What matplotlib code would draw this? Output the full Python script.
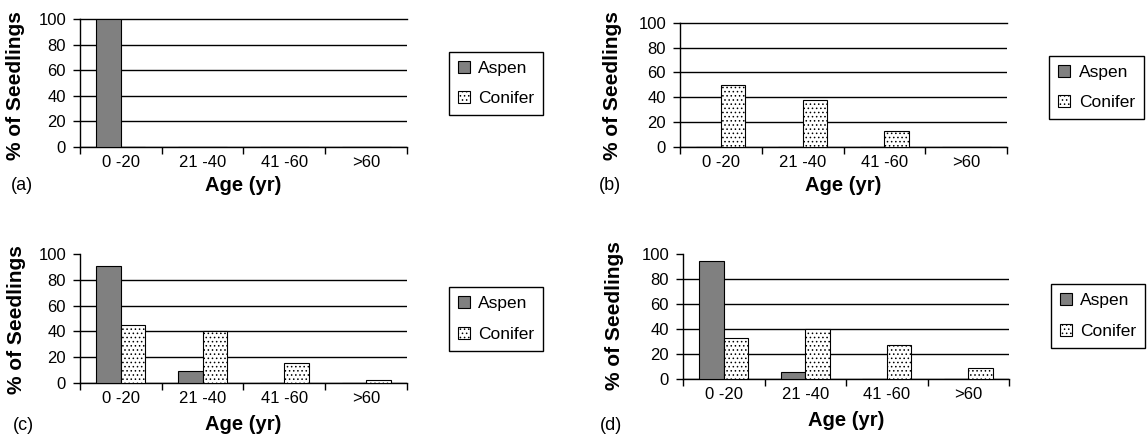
import numpy as np
import matplotlib
matplotlib.use("Agg")
import matplotlib.pyplot as plt

plt.rcParams["font.family"] = ["Liberation Sans", "DejaVu Sans"]
plt.rcParams["hatch.linewidth"] = 0.6

# Data (% of seedlings per age class)
age_groups = ["0 -20", "21 -40", "41 -60", ">60"]
aspen_a = [100, 0, 0, 0]
conifer_a = [0, 0, 0, 0]
aspen_b = [0, 0, 0, 0]
conifer_b = [50, 37.5, 12.5, 0]
aspen_c = [91, 9, 0, 0]
conifer_c = [45, 40, 15, 2]
aspen_d = [95, 5, 0, 0]
conifer_d = [33, 40, 27, 9]
panel_letters = ["(a)", "(b)", "(c)", "(d)"]

W, H = 1148, 438
fig = plt.figure(figsize=(W / 100, H / 100), dpi=100)


def fx(x):
    return x / W


def fy(y):
    return 1 - y / H


# layout in pixels: axes box (left, top, right, bottom), legend centre,
# ylabel centre, xlabel centre, letter centre, top gridline shown
layout = [
    ((80, 19, 407, 147), (496, 83.5), (16, 86), (243, 185), (22, 185), True),
    ((680, 22.7, 1007, 147), (1096.5, 87.5), (613, 86), (843, 185), (610, 185), True),
    ((80, 254.3, 407, 382.7), (496, 319), (16.5, 320), (243, 425), (23, 425), False),
    ((683, 254.3, 1009, 378.7), (1098, 316), (615, 316), (846, 420), (611, 426), False),
]
series = [(aspen_a, conifer_a), (aspen_b, conifer_b),
          (aspen_c, conifer_c), (aspen_d, conifer_d)]

x = np.arange(len(age_groups)) + 0.5

for (aspen, conifer), letter, (box, leg_c, yl_c, xl_c, let_c, top_grid) in zip(
        series, panel_letters, layout):
    l, t, r, b = box
    ax = fig.add_axes([fx(l), fy(b), (r - l) / W, (b - t) / H])

    ax.bar(x - 0.15, aspen, width=0.3, color="#808080", edgecolor="black",
           linewidth=0.8, label="Aspen", zorder=3)
    ax.bar(x + 0.15, conifer, width=0.3, color="white", edgecolor="black",
           hatch="....", linewidth=0.8, label="Conifer", zorder=3)

    ax.set_xlim(0, 4)
    ax.set_ylim(0, 100)
    ax.set_yticks(range(0, 101, 20))
    ax.set_xticks(range(5))
    ax.set_xticklabels([])
    ax.set_xticks(x, minor=True)
    ax.set_xticklabels(age_groups, minor=True)
    ax.tick_params(axis="x", which="minor", length=0, pad=6, labelsize=12)
    ax.tick_params(axis="x", which="major", length=5, width=1)
    ax.tick_params(axis="y", length=5, width=1, pad=5, labelsize=12)
    for s in ["top", "right"]:
        ax.spines[s].set_visible(False)
    for s in ["left", "bottom"]:
        ax.spines[s].set_linewidth(1)

    ax.yaxis.grid(True, color="black", linewidth=1)
    gl = ax.get_ygridlines()
    gl[-1].set_clip_on(False)
    if not top_grid:
        gl[-1].set_visible(False)

    leg = ax.legend(loc="center", bbox_to_anchor=(fx(leg_c[0]), fy(leg_c[1])),
                    bbox_transform=fig.transFigure, fancybox=False,
                    edgecolor="black", framealpha=1, fontsize=12.5,
                    handlelength=0.7, handleheight=0.7, handletextpad=0.5,
                    labelspacing=0.9, borderpad=0.5)
    leg.get_frame().set_linewidth(1)

    fig.text(fx(yl_c[0]), fy(yl_c[1]), "% of Seedlings", rotation=90,
             ha="center", va="center", fontsize=15, fontweight="bold")
    fig.text(fx(xl_c[0]), fy(xl_c[1]), "Age (yr)", ha="center", va="center",
             fontsize=14.5, fontweight="bold")
    fig.text(fx(let_c[0]), fy(let_c[1]), letter, ha="center", va="center",
             fontsize=13)

fig.savefig("out.png", dpi=100)
